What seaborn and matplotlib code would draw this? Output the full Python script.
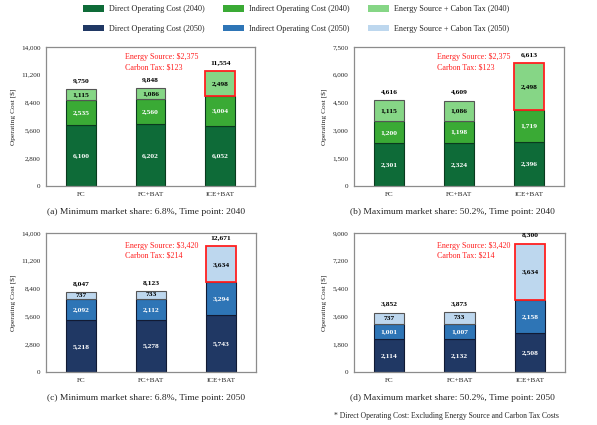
import numpy as np
import pandas as pd
import matplotlib
matplotlib.use("Agg")
import matplotlib.pyplot as plt
from matplotlib.patches import Patch
import seaborn as sns

sns.set_theme(style="white")
plt.rcParams['font.family'] = ['Liberation Serif', 'DejaVu Serif']

categories = ["FC", "FC+BAT", "ICE+BAT"]

# (a) min share 2040
a_direct = [6100, 6202, 6052]
a_indirect = [2535, 2560, 3004]
a_energy = [1115, 1086, 2498]
a_total = [9750, 9848, 11554]
# (b) max share 2040
b_direct = [2301, 2324, 2396]
b_indirect = [1200, 1198, 1719]
b_energy = [1115, 1086, 2498]
b_total = [4616, 4609, 6613]
# (c) min share 2050
c_direct = [5218, 5278, 5743]
c_indirect = [2092, 2112, 3294]
c_energy = [737, 733, 3634]
c_total = [8047, 8123, 12671]
# (d) max share 2050
d_direct = [2114, 2132, 2508]
d_indirect = [1001, 1007, 2158]
d_energy = [737, 733, 3634]
d_total = [3852, 3873, 8300]

yticks_a = [0, 2800, 5600, 8400, 11200, 14000]
yticks_b = [0, 1500, 3000, 4500, 6000, 7500]
yticks_c = [0, 2800, 5600, 8400, 11200, 14000]
yticks_d = [0, 1800, 3600, 5400, 7200, 9000]

captions = ["(a) Minimum market share: 6.8%, Time point: 2040",
            "(b) Maximum market share: 50.2%, Time point: 2040",
            "(c) Minimum market share: 6.8%, Time point: 2050",
            "(d) Maximum market share: 50.2%, Time point: 2050"]
notes_2040 = ["Energy Source: $2,375", "Carbon Tax: $123"]
notes_2050 = ["Energy Source: $3,420", "Carbon Tax: $214"]
legend_labels = ["Direct Operating Cost (2040)", "Indirect Operating Cost (2040)",
                 "Energy Source + Cabon Tax (2040)",
                 "Direct Operating Cost (2050)", "Indirect Operating Cost (2050)",
                 "Energy Source + Cabon Tax (2050)"]
footnote = "* Direct Operating Cost: Excluding Energy Source and Carbon Tax Costs"

col40 = ["#0e6b38", "#3aaa35", "#86d686"]
col50 = ["#203864", "#2e75b6", "#bdd7ee"]
edge40 = "#0a3a1e"
edge50 = "#111a33"

fig = plt.figure(figsize=(5.97, 4.25), dpi=100)
W, H = 597, 425
def axpos(l, r, t, b):
    return [l / W, 1 - b / H, (r - l) / W, (b - t) / H]

panels = [
    (axpos(46, 255, 47, 186), a_direct, a_indirect, a_energy, a_total, yticks_a, col40, edge40, notes_2040, (0.378, 0.928, 0.856), (146, 212)),
    (axpos(354, 564, 47, 186), b_direct, b_indirect, b_energy, b_total, yticks_b, col40, edge40, notes_2040, (0.395, 0.928, 0.856), (452, 212)),
    (axpos(46, 256, 233, 372), c_direct, c_indirect, c_energy, c_total, yticks_c, col50, edge50, notes_2050, (0.378, 0.906, 0.835), (146, 398)),
    (axpos(354, 565, 233, 372), d_direct, d_indirect, d_energy, d_total, yticks_d, col50, edge50, notes_2050, (0.395, 0.906, 0.835), (452, 398)),
]

for i, (pos, dr, ind, en, tot, yt, cols, edc, notes, npos, cap) in enumerate(panels):
    ax = fig.add_axes(pos)
    df = pd.DataFrame({"cat": categories, "direct": dr, "indirect": ind, "energy": en})
    df["b2"] = df["direct"]
    df["b3"] = df["direct"] + df["indirect"]
    w = 0.43
    sns.barplot(data=df, x="cat", y="direct", color=cols[0], saturation=1,
                width=w, edgecolor=edc, linewidth=0.8, ax=ax)
    sns.barplot(data=df, x="cat", y="indirect", bottom=df["b2"].values, color=cols[1],
                saturation=1, width=w, edgecolor=edc, linewidth=0.8, ax=ax)
    sns.barplot(data=df, x="cat", y="energy", bottom=df["b3"].values, color=cols[2],
                saturation=1, width=w, edgecolor="#555555", linewidth=0.8, ax=ax)
    # highlight the ICE+BAT energy segment
    top_patch = ax.patches[-1]
    top_patch.set_edgecolor("#ff2020")
    top_patch.set_linewidth(1.3)
    top_patch.set_zorder(5)

    for j in range(3):
        ax.text(j, dr[j] / 2, f"{dr[j]:,}", ha="center", va="center",
                color="white", fontweight="bold", fontsize=5.4, zorder=6)
        ax.text(j, dr[j] + ind[j] / 2, f"{ind[j]:,}", ha="center", va="center",
                color="white", fontweight="bold", fontsize=5.4, zorder=6)
        ax.text(j, dr[j] + ind[j] + en[j] / 2, f"{en[j]:,}", ha="center", va="center",
                color="black", fontweight="bold", fontsize=5.4, zorder=6)
        ax.annotate(f"{tot[j]:,}", (j, dr[j] + ind[j] + en[j]), xytext=(0, 6.3),
                    textcoords="offset points", ha="center", va="center",
                    color="black", fontweight="bold", fontsize=5.4)

    ax.set_xlim(-0.5, 2.5)
    ax.set_ylim(yt[0], yt[-1])
    ax.set_yticks(yt)
    ax.set_yticklabels([f"{v:,}" for v in yt])
    ax.set_xlabel("")
    ax.set_ylabel("Operating Cost [$]", fontsize=5.4, labelpad=3)
    ax.tick_params(axis="both", length=0, labelsize=5.1, pad=4)
    for s in ax.spines.values():
        s.set_color("#8c8c8c")
        s.set_linewidth(0.9)
    ax.text(npos[0], npos[1], notes[0], transform=ax.transAxes, color="#ff2020",
            fontsize=5.8, ha="left", va="center")
    ax.text(npos[0], npos[2], notes[1], transform=ax.transAxes, color="#ff2020",
            fontsize=5.8, ha="left", va="center")
    fig.text(cap[0] / W, 1 - cap[1] / H, captions[i], ha="center", va="center", fontsize=6.8)

fig.text(559 / W, 1 - 416 / H, footnote, ha="right", va="center", fontsize=5.5)

handles = []
order = [0, 3, 1, 4, 2, 5]
allcols = col40 + col50
for k in order:
    handles.append(Patch(facecolor=allcols[k], edgecolor="none", label=legend_labels[k]))
fig.legend(handles=handles, loc="center", bbox_to_anchor=(296 / W, 1 - 19 / H), ncol=3,
           frameon=False, fontsize=5.9, handlelength=2.5, handleheight=0.9,
           handletextpad=0.6, columnspacing=2.3, labelspacing=1.35)

fig.savefig("out.png", dpi=100)
